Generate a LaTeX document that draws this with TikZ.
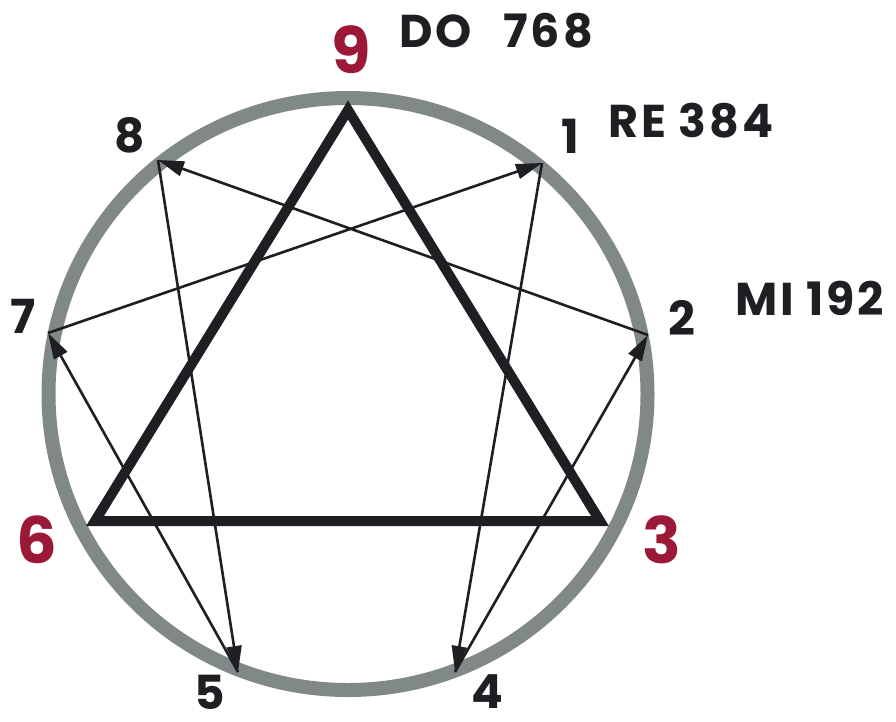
\documentclass[tikz,border=0pt]{standalone}
\usepackage{fontspec}
\setmainfont{Poppins}
\newfontfamily\notefont{Poppins}[LetterSpace=6]
\usetikzlibrary{arrows.meta}
\definecolor{ringgray}{RGB}{128,137,135}
\definecolor{numred}{RGB}{155,25,55}
\definecolor{ink}{RGB}{30,30,35}
\begin{document}
\begin{tikzpicture}[x=1pt,y=-1pt,
  ring/.style={draw=ringgray,line width=14pt},
  tri/.style={draw=ink,line width=10pt,line join=miter},
  arr/.style={draw=ink,line width=2.6pt,-{Triangle[length=26pt,width=15pt]}},
  blk/.style={font=\fontsize{47}{47}\selectfont\bfseries,text=ink,inner sep=0pt},
  rednum/.style={font=\fontsize{64}{64}\selectfont\bfseries,text=numred,inner sep=0pt},
  note/.style={font=\notefont\fontsize{46}{46}\selectfont\bfseries,text=ink,inner sep=0pt}]
\useasboundingbox (0,0) rectangle (896,721);
\fill[white] (0,0) rectangle (896,721);
% ring
\draw[ring] (348,394) ellipse [x radius=299.5, y radius=296];
% points
\coordinate (p9) at (348,110);
\coordinate (p3) at (600,521);
\coordinate (p6) at (95,521);
\coordinate (p1) at (542,163);
\coordinate (p2) at (648,335);
\coordinate (p4) at (455,672);
\coordinate (p5) at (238,672);
\coordinate (p7) at (48,333);
\coordinate (p8) at (158,160);
% triangle
\draw[tri] (p9) -- (p3) -- (p6) -- cycle;
% arrows
\draw[arr] (p1) -- (p4);
\draw[arr] (p4) -- (p2);
\draw[arr] (p2) -- (p8);
\draw[arr] (p8) -- (p5);
\draw[arr] (p5) -- (p7);
\draw[arr] (p7) -- (p1);
% labels
\node[rednum] (l9) at (351,50) {9};
\node[rednum] (l6) at (37,540) {6};
\node[rednum] (l3) at (662,540) {3};
\node[blk] (l1) at (570,136) {1};
\node[blk] (l2) at (682,318) {2};
\node[blk] (l4) at (487,692) {4};
\node[blk] (l5) at (210,692) {5};
\node[blk] (l7) at (23,316) {7};
\node[blk] (l8) at (130,135) {8};
\node[note] (n9) at (496,31) {DO\hspace{0.7em}768};
\node[note] (n1) at (691,121) {RE 384};
\node[note] (n2) at (810,298) {MI 192};
\end{tikzpicture}
\end{document}
